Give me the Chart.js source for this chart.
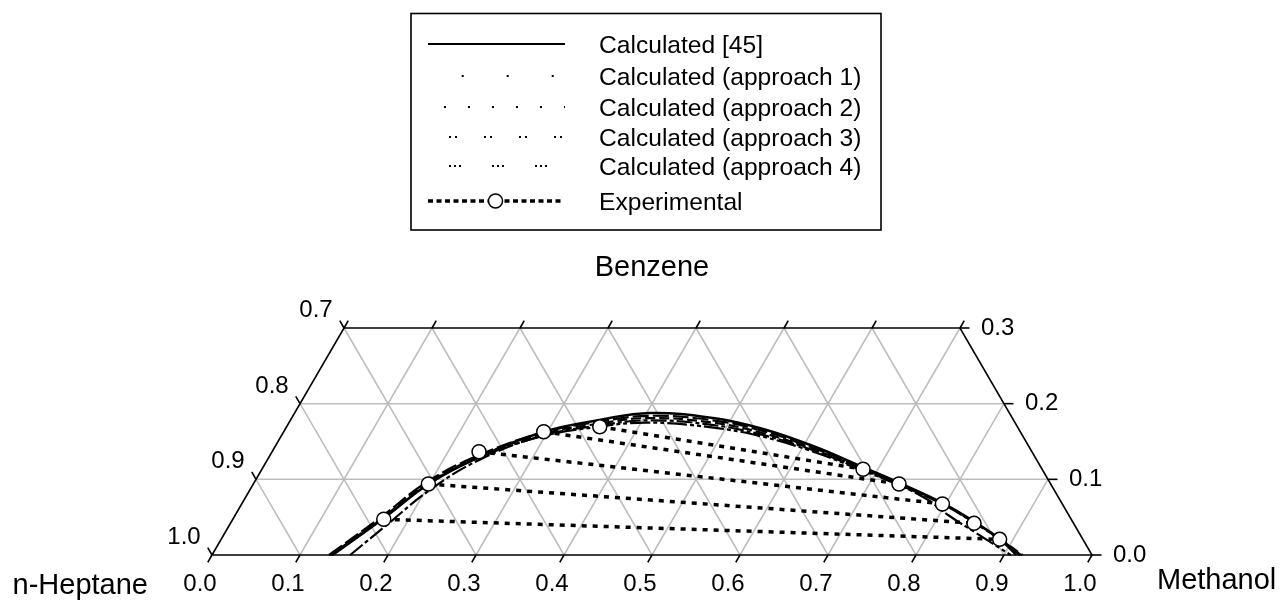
<!DOCTYPE html>
<html>
<head>
<meta charset="utf-8">
<script src="https://cdn.jsdelivr.net/npm/chart.js@4.4.1/dist/chart.umd.min.js"></script>
<style>
  html, body { margin: 0; padding: 0; background: #ffffff; }
  canvas { display: block; }
</style>
</head>
<body>
<canvas id="chart" width="1282" height="602"></canvas>
<script>
// Liquid-liquid equilibrium of n-heptane / benzene / methanol.
// Compositions are mole fractions: methanol (m) and benzene (b); n-heptane = 1 - m - b.

// Binodal curve, Calculated [45]
const calc45Methanol = [0.137, 0.171, 0.200, 0.239, 0.295, 0.351, 0.404, 0.479, 0.543, 0.611, 0.681, 0.734, 0.796, 0.845, 0.885, 0.918];
const calc45Benzene  = [0.000, 0.049, 0.095, 0.1295, 0.1626, 0.1784, 0.1877, 0.181, 0.1665, 0.144, 0.1163, 0.0951, 0.0687, 0.0436, 0.0211, 0.000];

// Binodal curve, approach 1
const appr1Methanol = [0.133, 0.167, 0.196, 0.236, 0.293, 0.351, 0.405, 0.480, 0.544, 0.611, 0.681, 0.734, 0.796, 0.845, 0.884, 0.914];
const appr1Benzene  = [0.000, 0.050, 0.0965, 0.131, 0.161, 0.176, 0.184, 0.178, 0.164, 0.142, 0.1155, 0.0945, 0.068, 0.043, 0.021, 0.000];

// Binodal curve, approach 2
const appr2Methanol = [0.135, 0.169, 0.198, 0.238, 0.294, 0.352, 0.406, 0.481, 0.544, 0.611, 0.681, 0.734, 0.797, 0.846, 0.886, 0.921];
const appr2Benzene  = [0.000, 0.049, 0.0955, 0.1295, 0.159, 0.1735, 0.181, 0.175, 0.1615, 0.1405, 0.1145, 0.0935, 0.0675, 0.0425, 0.0205, 0.000];

// Binodal curve, approach 3
const appr3Methanol = [0.157, 0.177, 0.2045, 0.240, 0.295, 0.353, 0.407, 0.482, 0.545, 0.612, 0.681, 0.734, 0.797, 0.846, 0.886, 0.919];
const appr3Benzene  = [0.000, 0.0365, 0.0857, 0.125, 0.157, 0.171, 0.178, 0.172, 0.159, 0.139, 0.1135, 0.093, 0.067, 0.042, 0.020, 0.000];

// Binodal curve, approach 4
const appr4Methanol = [0.136, 0.170, 0.199, 0.238, 0.294, 0.352, 0.406, 0.481, 0.545, 0.612, 0.681, 0.734, 0.775, 0.810, 0.852, 0.9076];
const appr4Benzene  = [0.000, 0.0485, 0.094, 0.128, 0.156, 0.169, 0.175, 0.169, 0.157, 0.1375, 0.1125, 0.0925, 0.074, 0.0529, 0.030, 0.000];

// Experimental tie lines: heptane-rich phase (left) and methanol-rich phase (right)
const expLeftMethanol  = [0.1716, 0.1990, 0.2352, 0.2955, 0.3559];
const expLeftBenzene   = [0.0472, 0.0938, 0.1365, 0.1629, 0.1695];
const expRightMethanol = [0.8847, 0.8450, 0.7963, 0.7338, 0.6832];
const expRightBenzene  = [0.0207, 0.0419, 0.0674, 0.0938, 0.1133];

// Axis tick labels
const methanolTicks = ['0.0', '0.1', '0.2', '0.3', '0.4', '0.5', '0.6', '0.7', '0.8', '0.9', '1.0'];
const heptaneTicks  = ['1.0', '0.9', '0.8', '0.7'];   // left side, bottom to top
const benzeneTicks  = ['0.0', '0.1', '0.2', '0.3'];   // right side, bottom to top
const BENZENE_MAX = 0.3;

const legendLabels = [
  'Calculated [45]',
  'Calculated (approach 1)',
  'Calculated (approach 2)',
  'Calculated (approach 3)',
  'Calculated (approach 4)',
  'Experimental'
];

const FONT = 'Arial, "Liberation Sans", Helvetica, sans-serif';

// ternary (methanol, benzene) -> cartesian data point
function toXY(m, b) { return { x: m + b / 2, y: b }; }
function curve(ms, bs) { return ms.map((m, i) => toXY(m, bs[i])); }

const datasets = [];

// experimental points (drawn on top)
datasets.push({
  label: 'Experimental',
  data: curve(expLeftMethanol, expLeftBenzene).concat(curve(expRightMethanol, expRightBenzene)),
  showLine: false,
  pointRadius: 7,
  pointBackgroundColor: '#ffffff',
  pointBorderColor: '#000000',
  pointBorderWidth: 1.5,
  order: 0
});

// tie lines
expLeftMethanol.forEach((m, i) => {
  datasets.push({
    label: 'tie' + i,
    data: [toXY(m, expLeftBenzene[i]), toXY(expRightMethanol[i], expRightBenzene[i])],
    showLine: true,
    borderColor: '#000000',
    borderWidth: 3.5,
    borderDash: [5, 6],
    pointRadius: 0,
    order: 1
  });
});

const curveDefs = [
  { label: legendLabels[0], ms: calc45Methanol, bs: calc45Benzene, dash: [], width: 2.5 },
  { label: legendLabels[1], ms: appr1Methanol, bs: appr1Benzene, dash: [16, 4], width: 2.2 },
  { label: legendLabels[2], ms: appr2Methanol, bs: appr2Benzene, dash: [10, 4], width: 2.2 },
  { label: legendLabels[3], ms: appr3Methanol, bs: appr3Benzene, dash: [16, 3, 4, 3], width: 2.2 },
  { label: legendLabels[4], ms: appr4Methanol, bs: appr4Benzene, dash: [20, 3, 4, 3, 4, 3], width: 2.2 }
];
curveDefs.forEach((c, i) => {
  datasets.push({
    label: c.label,
    data: curve(c.ms, c.bs),
    showLine: true,
    borderColor: '#000000',
    borderWidth: c.width,
    borderDash: c.dash,
    tension: 0.4,
    pointRadius: 0,
    order: 2 + i
  });
});

function pointFn(chart) {
  const xs = chart.scales.x, ys = chart.scales.y;
  return (m, b) => ({ x: xs.getPixelForValue(m + b / 2), y: ys.getPixelForValue(b) });
}

// Ternary frame, grid, ticks, labels and the boxed legend
const ternaryPlugin = {
  id: 'ternary',
  beforeDatasetsDraw(chart) {
    const ctx = chart.ctx;
    const P = pointFn(chart);
    ctx.save();
    ctx.strokeStyle = '#bdbdbd';
    ctx.lineWidth = 1.5;
    const line = (a, b) => { ctx.beginPath(); ctx.moveTo(a.x, a.y); ctx.lineTo(b.x, b.y); ctx.stroke(); };
    for (let i = 1; i <= 2; i++) {
      const b = i / 10;
      line(P(0, b), P(1 - b, b));
    }
    for (let i = 1; i <= 9; i++) {
      const m = i / 10;
      line(P(m, 0), P(m, Math.min(BENZENE_MAX, 1 - m)));
    }
    for (let i = 1; i <= 9; i++) {
      const s = 1 - i / 10;          // methanol + benzene at constant heptane
      const bt = Math.min(BENZENE_MAX, s);
      line(P(s, 0), P(s - bt, bt));
    }
    ctx.restore();
  },
  afterDatasetsDraw(chart, args, opts) {
    const ctx = chart.ctx;
    const P = pointFn(chart);
    ctx.save();
    ctx.strokeStyle = '#000000';
    ctx.lineWidth = 1.6;
    // frame
    const c0 = P(0, 0), c1 = P(1, 0), c2 = P(1 - BENZENE_MAX, BENZENE_MAX), c3 = P(0, BENZENE_MAX);
    ctx.beginPath();
    ctx.moveTo(c0.x, c0.y); ctx.lineTo(c1.x, c1.y); ctx.lineTo(c2.x, c2.y); ctx.lineTo(c3.x, c3.y);
    ctx.closePath();
    ctx.stroke();

    const L = 8.5;
    const cs = 0.5, sn = Math.sqrt(3) / 2;
    const tick = (p, dx, dy) => { ctx.beginPath(); ctx.moveTo(p.x, p.y); ctx.lineTo(p.x + dx, p.y + dy); ctx.stroke(); };

    ctx.fillStyle = '#000000';
    ctx.font = '24px ' + FONT;

    // bottom axis: methanol
    ctx.textAlign = 'center';
    ctx.textBaseline = 'middle';
    methanolTicks.forEach((t, i) => {
      const p = P(i / 10, 0);
      tick(p, -cs * L, sn * L);
      ctx.fillText(t, p.x - 12, p.y + 29);
    });
    // top edge ticks
    for (let i = 0; i <= 7; i++) {
      const p = P(i / 10, BENZENE_MAX);
      tick(p, cs * L, -sn * L);
    }
    // left side: n-heptane
    heptaneTicks.forEach((t, i) => {
      const p = P(0, i / 10);
      tick(p, -cs * L, -sn * L);
      ctx.fillText(t, p.x - 28, p.y - 17.5);
    });
    // right side: benzene
    ctx.textAlign = 'left';
    benzeneTicks.forEach((t, i) => {
      const b = i / 10;
      const p = P(1 - b, b);
      tick(p, L + 1, 0);
      ctx.fillText(t, p.x + 21, p.y);
    });

    // component names
    ctx.font = '29px ' + FONT;
    ctx.textAlign = 'center';
    ctx.fillText('Benzene', (c2.x + c3.x) / 2, 268);
    ctx.textAlign = 'right';
    ctx.fillText('n-Heptane', 148, 586);
    ctx.textAlign = 'left';
    ctx.fillText('Methanol', 1157, 581);
    ctx.restore();

    drawLegend(chart, opts.legend);
  }
};

function drawLegend(chart, lg) {
  const ctx = chart.ctx;
  ctx.save();
  ctx.strokeStyle = '#000000';
  ctx.lineWidth = 1.6;
  ctx.strokeRect(lg.left, lg.top, lg.width, lg.height);
  ctx.font = '24.6px ' + FONT;
  ctx.textAlign = 'left';
  ctx.textBaseline = 'middle';
  ctx.fillStyle = '#000000';
  lg.items.forEach((it, i) => {
    const y = lg.rows[i];
    const x1 = it.sampleX1 || lg.sampleX1;
    ctx.save();
    ctx.lineWidth = it.width;
    ctx.lineCap = 'butt';
    ctx.setLineDash(it.dash);
    ctx.lineDashOffset = it.offset || 0;
    ctx.beginPath();
    ctx.moveTo(lg.sampleX0, y);
    ctx.lineTo(x1, y);
    ctx.stroke();
    ctx.restore();
    if (it.marker) {
      const cx = (lg.sampleX0 + x1) / 2;
      ctx.save();
      ctx.beginPath();
      ctx.arc(cx, y, 7, 0, Math.PI * 2);
      ctx.fillStyle = '#ffffff';
      ctx.fill();
      ctx.lineWidth = 1.5;
      ctx.stroke();
      ctx.restore();
    }
    ctx.fillText(it.label, lg.textX, y + 2);
  });
  ctx.restore();
}

new Chart(document.getElementById('chart'), {
  type: 'scatter',
  data: { datasets },
  options: {
    responsive: false,
    animation: false,
    clip: false,
    layout: { padding: { left: 212, right: 190, top: 328, bottom: 47 } },
    scales: {
      x: { type: 'linear', min: 0, max: 1, display: false },
      y: { type: 'linear', min: 0, max: BENZENE_MAX, display: false }
    },
    plugins: {
      legend: { display: false },
      tooltip: { enabled: false },
      ternary: {
        legend: {
          left: 411, top: 13.5, width: 470, height: 216.5,
          sampleX0: 428, sampleX1: 565, textX: 599,
          rows: [44, 76, 107, 137, 166, 201],
          items: [
            { label: legendLabels[0], width: 2.2, dash: [] },
            { label: legendLabels[1], width: 2.2, dash: [2, 43], offset: 11.3 },
            { label: legendLabels[2], width: 2.2, dash: [2, 22], offset: 8 },
            { label: legendLabels[3], width: 2.2, dash: [2, 4, 2, 27], offset: 14 },
            { label: legendLabels[4], width: 2.2, dash: [2, 3, 2, 3, 2, 31], offset: 22 },
            { label: legendLabels[5], width: 3.5, dash: [5, 3.5], marker: true, sampleX1: 563 }
          ]
        }
      }
    }
  },
  plugins: [ternaryPlugin]
});
</script>
</body>
</html>
